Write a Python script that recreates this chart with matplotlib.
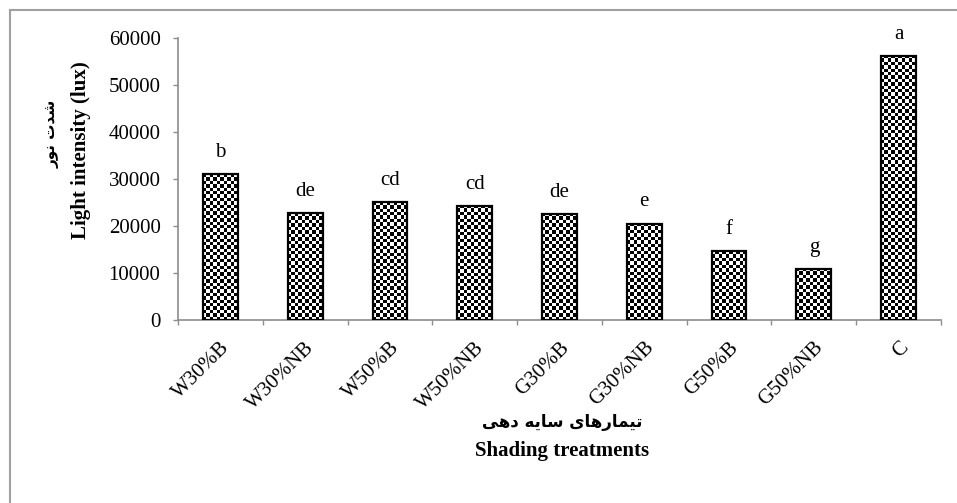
import numpy as np
import matplotlib.pyplot as plt
from matplotlib.lines import Line2D

treatments = ["W30%B", "W30%NB", "W50%B", "W50%NB", "G30%B",
              "G30%NB", "G50%B", "G50%NB", "C"]
light_lux = [31000, 22700, 25100, 24300, 22600, 20500, 14600, 10900, 56200]
groups = ["b", "de", "cd", "cd", "de", "e", "f", "g", "a"]

# Persian captions written in presentation forms (visual order)
fa_ylabel = "\uFEAD\uFEEE\uFEE7 \uFE95\uFEAA\uFEB7"
fa_xlabel = ("\uFBFD\uFEEB\uFEA9 \uFEEA\uFBFE\uFE8E\uFEB3 "
             "\uFBFC\uFE8E\uFEEB\uFEAD\uFE8E\uFEE4\uFBFF\uFE97")

serif = ["Liberation Serif", "DejaVu Serif"]
fa_font = ["DejaVu Sans"]
grey = "#8c8c8c"

fig = plt.figure(figsize=(9.57, 5.03), dpi=100)
ax = fig.add_axes([178 / 957, 1 - 320 / 503, (941 - 178) / 957, (320 - 38) / 503])

x = np.arange(len(treatments))
bars = ax.bar(x, light_lux, width=0.41, facecolor="none", edgecolor="black",
              linewidth=1.6, zorder=3)

ax.set_xlim(-0.5, len(treatments) - 0.5)
ax.set_ylim(0, 60000)

# checkerboard fill clipped to each bar
cell = 3.4
for rect in bars:
    x0, w, h = rect.get_x(), rect.get_width(), rect.get_height()
    p = ax.transData.transform([(x0, 0), (x0 + w, h)])
    nx = max(1, int(round((p[1, 0] - p[0, 0]) / cell)))
    ny = max(1, int(round((p[1, 1] - p[0, 1]) / cell)))
    checker = np.add.outer(np.arange(ny), np.arange(nx)) % 2
    im = ax.imshow(checker, cmap="gray", extent=(x0, x0 + w, 0, h),
                   origin="lower", interpolation="nearest", aspect="auto",
                   zorder=2)
    im.set_clip_path(rect)

ax.set_xlim(-0.5, len(treatments) - 0.5)
ax.set_ylim(0, 60000)

for xi, v, g in zip(x, light_lux, groups):
    ax.text(xi, v + 2600, g, ha="center", va="bottom", fontsize=15,
            family=serif)

ax.set_yticks(np.arange(0, 60001, 10000))
ax.set_yticklabels([str(v) for v in range(0, 60001, 10000)], family=serif,
                   fontsize=15)
ax.set_xticks(np.arange(-0.5, len(treatments), 1.0))
ax.set_xticklabels([])
ax.set_xticks(x, minor=True)
ax.set_xticklabels(treatments, minor=True, rotation=45, ha="right",
                   va="top", rotation_mode="anchor", family=serif, fontsize=15)
ax.tick_params(axis="x", which="major", length=3.6, color=grey, width=1)
ax.tick_params(axis="x", which="minor", length=0, pad=13)
ax.tick_params(axis="y", length=3.6, color=grey, width=1, pad=9)

for s in ["top", "right"]:
    ax.spines[s].set_visible(False)
for s in ["left", "bottom"]:
    ax.spines[s].set_color(grey)
    ax.spines[s].set_linewidth(1.2)

fig.text(81 / 957, 1 - 150 / 503, "Light intensity (lux)", rotation=90,
         ha="center", va="center", fontsize=15, fontweight="bold", family=serif)
fig.text(52 / 957, 1 - 134 / 503, fa_ylabel, rotation=90, ha="center",
         va="center", fontsize=11, fontweight="bold", family=fa_font)
fig.text(562 / 957, 1 - 422 / 503, fa_xlabel, ha="center", va="center",
         fontsize=12, fontweight="bold", family=fa_font)
fig.text(562 / 957, 1 - 451 / 503, "Shading treatments", ha="center",
         va="center", fontsize=15, fontweight="bold", family=serif)

# outer chart frame
fig.add_artist(Line2D([10 / 957, 10 / 957], [0, 1 - 10 / 503],
                      transform=fig.transFigure, color="#a0a0a0", lw=1.5))
fig.add_artist(Line2D([10 / 957, 1], [1 - 10 / 503, 1 - 10 / 503],
                      transform=fig.transFigure, color="#a0a0a0", lw=1.5))

fig.savefig("out.png", dpi=100)
